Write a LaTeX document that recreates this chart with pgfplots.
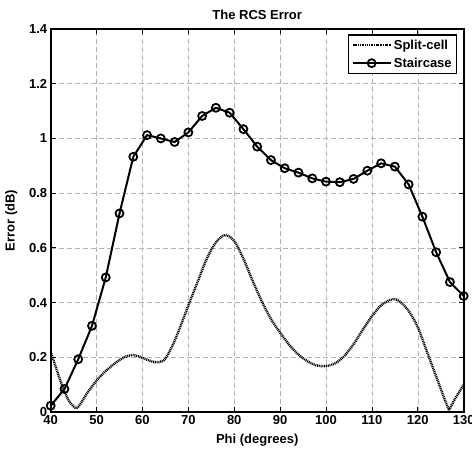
\documentclass[border=0pt]{standalone}
\usepackage{fontspec}
\setmainfont{Liberation Sans}
\usepackage{pgfplots}
\pgfplotsset{compat=1.18}

\begin{document}
\begin{tikzpicture}
\path[use as bounding box] (-50.7pt,-39pt) rectangle (421.3pt,412pt);
\begin{axis}[
  scale only axis, width=413pt, height=383pt,
  xmin=40, xmax=130, ymin=0, ymax=1.4,
  xtick={40,50,...,130}, ytick={0,0.2,0.4,0.6,0.8,1,1.2,1.4},
  tick align=inside, major tick length=5pt,
  every tick/.style={black, line width=0.8pt},
  axis line style={line width=1.8pt},
  grid=major, major grid style={gray!60, line width=0.5pt, dash pattern=on 5pt off 3pt},
  /pgf/number format/assume math mode=true,
  tick label style={font=\bfseries\fontsize{13}{15}\selectfont},
  title={The RCS Error}, title style={font=\bfseries\fontsize{13}{15}\selectfont, yshift=0pt},
  xlabel={Phi (degrees)}, ylabel={Error (dB)},
  label style={font=\bfseries\fontsize{13}{15}\selectfont},
  xlabel style={yshift=-2pt}, ylabel style={yshift=5pt},
  legend style={at={(0.985,0.987)}, anchor=north east, draw=black, line width=1.6pt,
    font=\bfseries\fontsize{13}{15}\selectfont, inner sep=3pt, row sep=3pt},
  legend cell align=left,
  legend image code/.code={\draw[mark repeat=2,mark phase=2] plot coordinates {(0pt,0pt) (19pt,0pt) (38pt,0pt)};},
]
\addplot[black, line width=2.4pt, dash pattern=on 1pt off 0.8pt, smooth, tension=0.5] coordinates {
  (40,0.22) (41,0.17) (42,0.12) (43,0.075) (44,0.04) (45,0.02) (45.7,0.015) (46.5,0.03)
  (48,0.07) (50,0.115) (52,0.15) (54,0.178) (56,0.2) (58,0.208) (60,0.198) (62,0.185)
  (63.5,0.182) (65,0.195) (67,0.26) (69,0.345) (70,0.39) (72,0.475) (74,0.56) (76,0.62)
  (78,0.647) (80,0.625) (82,0.56) (84,0.48) (86,0.405) (88,0.34) (90,0.29) (92,0.245)
  (94,0.21) (96,0.185) (98,0.17) (100,0.168) (102,0.178) (104,0.205) (106,0.248) (108,0.3)
  (110,0.35) (112,0.39) (114,0.41) (115,0.412) (116,0.405) (118,0.37) (120,0.31) (122,0.22)
  (124,0.13) (126,0.04) (126.8,0.007)
};
\addlegendentry{Split-cell}
\addplot[black, line width=2pt, mark=o, mark size=4pt, mark options={solid, line width=1.8pt}] coordinates {
  (40,0.023) (43,0.084) (46,0.193) (49,0.315) (52,0.492) (55,0.726) (58,0.933) (61,1.012)
  (64,1.000) (67,0.987) (70,1.022) (73,1.082) (76,1.112) (79,1.094) (82,1.034) (85,0.970)
  (88,0.921) (91,0.891) (94,0.875) (97,0.854) (100,0.842) (103,0.840) (106,0.852) (109,0.882)
  (112,0.909) (115,0.897) (118,0.832) (121,0.714) (124,0.584) (127,0.475) (130,0.424)
};
\addlegendentry{Staircase}
\addplot[black, line width=2.4pt, dash pattern=on 1pt off 0.8pt, forget plot] coordinates {
  (126.8,0.007) (128,0.045) (130,0.1)
};
\end{axis}
\end{tikzpicture}
\end{document}
